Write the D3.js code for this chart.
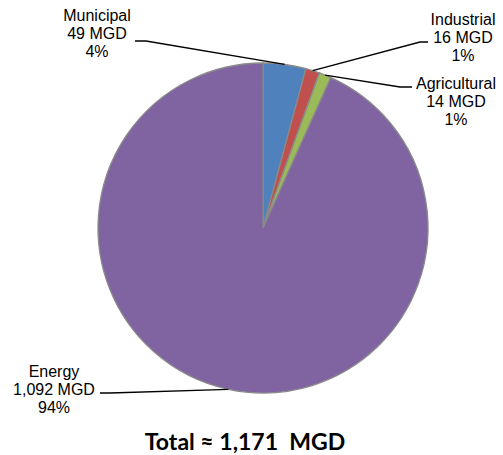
<!DOCTYPE html>
<meta charset="utf-8">
<style>
body { margin: 0; background: #fff; }
.lbl { font-family: "Liberation Sans", Arial, sans-serif; font-size: 16px; fill: #000; }
.total { font-family: Lato, "Open Sans", sans-serif; font-weight: bold; font-size: 23px; fill: #000; }
</style>
<svg width="503" height="455"></svg>
<script src="https://d3js.org/d3.v7.min.js"></script>
<script>

var categories = ["Municipal", "Industrial", "Agricultural", "Energy"];
var values = [49, 16, 14, 1092];
var percents = ["4%", "1%", "1%", "94%"];
var totalLabel = "Total \u2248 1,171  MGD";

var colors = ["#4F81BD", "#C0504D", "#9BBB59", "#8064A2"];

// label placement: text centre x, first baseline y, leader elbow and end
var labelPos = [
  {x: 97, y: 21, elbow: [146, 41], end: [135, 41]},
  {x: 463, y: 25, elbow: [420, 42], end: [428, 42]},
  {x: 456, y: 89, elbow: [400, 87], end: [412, 87]},
  {x: 54, y: 377, elbow: [110, 393], end: [100, 393]}
];

var svg = d3.select("svg"),
    cx = 263, cy = 228, r = 165;

var data = categories.map(function(c, i) { return {name: c, value: values[i], pct: percents[i]}; });

var pie = d3.pie().sort(null).value(function(d) { return d.value; });
var arc = d3.arc().innerRadius(0).outerRadius(r);
var edge = d3.arc().innerRadius(r).outerRadius(r);

var g = svg.append("g").attr("transform", "translate(" + cx + "," + cy + ")");
var arcs = pie(data);

g.selectAll("path.slice")
  .data(arcs)
  .enter().append("path")
    .attr("class", "slice")
    .attr("d", arc)
    .attr("fill", function(d, i) { return colors[i]; })
    .attr("stroke", "#8a8a8a")
    .attr("stroke-width", 1.3);

// leader lines
svg.selectAll("polyline.leader")
  .data(arcs)
  .enter().append("polyline")
    .attr("class", "leader")
    .attr("fill", "none")
    .attr("stroke", "#000")
    .attr("stroke-width", 1.3)
    .attr("points", function(d, i) {
      var p = edge.centroid(d), L = labelPos[i];
      return [[p[0] + cx, p[1] + cy], L.elbow, L.end].map(function(q) { return q.join(","); }).join(" ");
    });

var labels = svg.selectAll("text.lbl")
  .data(data)
  .enter().append("text")
    .attr("class", "lbl")
    .attr("text-anchor", "middle")
    .attr("x", function(d, i) { return labelPos[i].x; })
    .attr("y", function(d, i) { return labelPos[i].y; });

labels.each(function(d, i) {
  var t = d3.select(this), x = labelPos[i].x;
  [d.name, d.value.toLocaleString("en-US") + " MGD", d.pct].forEach(function(s, k) {
    t.append("tspan").attr("x", x).attr("dy", k ? 18 : 0).text(s);
  });
});

svg.append("text")
  .attr("class", "total")
  .attr("x", 245)
  .attr("y", 450)
  .attr("text-anchor", "middle")
  .style("white-space", "pre")
  .text(totalLabel);

</script>
